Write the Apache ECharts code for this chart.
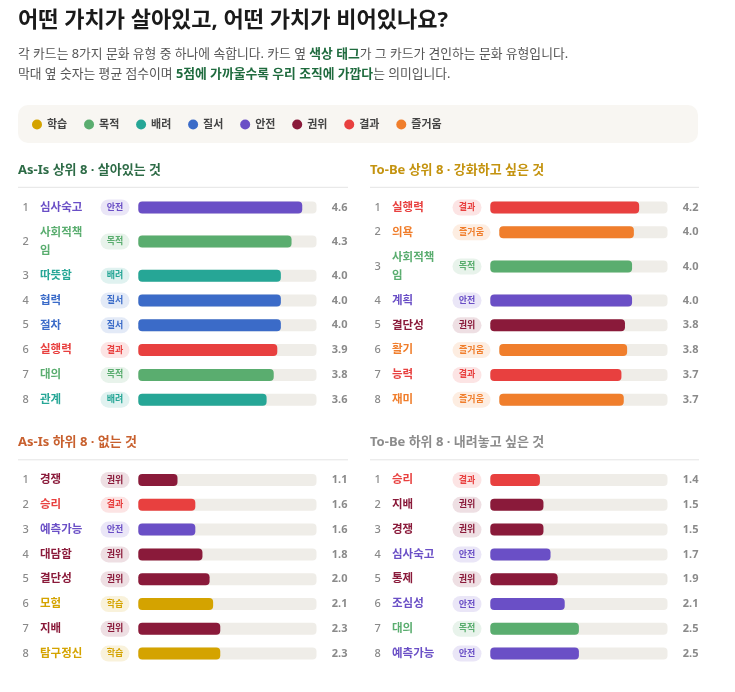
<!DOCTYPE html>
<html><head><meta charset="utf-8">
<script src="https://cdn.jsdelivr.net/npm/echarts@6/dist/echarts.min.js"></script>
<style>html,body{margin:0;padding:0;background:#fff}#c{width:735px;height:692px}</style>
</head><body><div id="c"></div>
<script>
// ---------- data ----------
const cultureTypes = ['학습','목적','배려','질서','안전','권위','결과','즐거움'];
const scoreMax = 5;

const asIsTopNames  = ['심사숙고','사회적책임','따뜻함','협력','절차','실행력','대의','관계'];
const asIsTopTypes  = ['안전','목적','배려','질서','질서','결과','목적','배려'];
const asIsTopScores = [4.6,4.3,4.0,4.0,4.0,3.9,3.8,3.6];

const toBeTopNames  = ['실행력','의욕','사회적책임','계획','결단성','활기','능력','재미'];
const toBeTopTypes  = ['결과','즐거움','목적','안전','권위','즐거움','결과','즐거움'];
const toBeTopScores = [4.2,4.0,4.0,4.0,3.8,3.8,3.7,3.7];

const asIsBottomNames  = ['경쟁','승리','예측가능','대담함','결단성','모험','지배','탐구정신'];
const asIsBottomTypes  = ['권위','결과','안전','권위','권위','학습','권위','학습'];
const asIsBottomScores = [1.1,1.6,1.6,1.8,2.0,2.1,2.3,2.3];

const toBeBottomNames  = ['승리','지배','경쟁','심사숙고','통제','조심성','대의','예측가능'];
const toBeBottomTypes  = ['결과','권위','권위','안전','권위','안전','목적','안전'];
const toBeBottomScores = [1.4,1.5,1.5,1.7,1.9,2.1,2.5,2.5];

const sectionTitles = ['As-Is 상위 8 · 살아있는 것','To-Be 상위 8 · 강화하고 싶은 것','As-Is 하위 8 · 없는 것','To-Be 하위 8 · 내려놓고 싶은 것'];

// ---------- style ----------
const FONT = '"Noto Sans","Noto Sans CJK KR",sans-serif';
const typeColor = {
  '학습':'#d4a300','목적':'#5aad6f','배려':'#26a696','질서':'#3b6bc8',
  '안전':'#6a4fc6','권위':'#8a1a3a','결과':'#e8403f','즐거움':'#f07e2c'
};
const ROW_PX = 24.8, WRAP_EXTRA = 0.75, NAME_CHARS = 4;
const panels = [
  {names:asIsTopNames, types:asIsTopTypes, scores:asIsTopScores, left:18, right:348, top:170, color:'#2d6b46'},
  {names:toBeTopNames, types:toBeTopTypes, scores:toBeTopScores, left:370, right:699, top:170, color:'#c4930f'},
  {names:asIsBottomNames, types:asIsBottomTypes, scores:asIsBottomScores, left:18, right:348, top:442.5, color:'#c8602e'},
  {names:toBeBottomNames, types:toBeBottomTypes, scores:toBeBottomScores, left:370, right:699, top:442.5, color:'#8c8c8c'}
];
function tagWidth(t){ return t.length*9 + 11; }
function rowLayout(names){
  let acc = 0;
  const centers = names.map(n => { const h = n.length > NAME_CHARS ? 1 + WRAP_EXTRA : 1; const c = acc + h/2; acc += h; return c; });
  return {centers, total: acc};
}

const grids = [], xAxes = [], yAxes = [], series = [], graphics = [];
panels.forEach((p, k) => {
  const lay = rowLayout(p.names);
  grids.push({left: p.left + 120.3, right: 735 - (p.right - 31.5), top: p.top + 25.1, height: lay.total * ROW_PX});
  xAxes.push({gridIndex:k, type:'value', min:0, max:scoreMax, show:false});
  yAxes.push({gridIndex:k, type:'value', min:0, max:lay.total, inverse:true, show:false});
  series.push({
    type:'custom', xAxisIndex:k, yAxisIndex:k, clip:false, silent:true,
    data: p.scores.map((s,i) => [s, lay.centers[i]]),
    renderItem: function(params, api){
      const i = params.dataIndex;
      const score = api.value(0), yc = api.value(1);
      const p0 = api.coord([0, yc]);
      const pMax = api.coord([scoreMax, yc]);
      const pV = api.coord([score, yc]);
      const type = p.types[i], col = typeColor[type];
      const tw = tagWidth(type);
      const off = tw - tagWidth('안전');
      const trackX = p0[0] + off, trackW = pMax[0] - trackX;
      const barW = trackW * (pV[0] - p0[0]) / (pMax[0] - p0[0]);
      const y = p0[1];
      const base = p0[0] - 120.3;
      let name = p.names[i];
      if (name.length > NAME_CHARS) name = name.slice(0, NAME_CHARS) + '\n' + name.slice(NAME_CHARS);
      return {type:'group', children:[
        {type:'rect', shape:{x:trackX, y:y-6, width:trackW, height:12, r:4}, style:{fill:'#efede8'}},
        {type:'rect', shape:{x:trackX, y:y-6, width:barW, height:12, r:4}, style:{fill:col}},
        {type:'text', style:{x:base+4.5, y:y, text:String(i+1), fill:'#8a8a8a', font:'500 11px '+FONT, verticalAlign:'middle', align:'left'}},
        {type:'text', style:{x:base+22, y:y, text:name, fill:col, font:'bold 11.5px '+FONT, lineHeight:18, verticalAlign:'middle', align:'left'}},
        {type:'rect', shape:{x:base+82.5, y:y-8, width:tw, height:16, r:8}, style:{fill:col, opacity:0.14}},
        {type:'text', style:{x:base+82.5+tw/2, y:y, text:type, fill:col, font:'bold 9px '+FONT, verticalAlign:'middle', align:'center'}},
        {type:'text', style:{x:pMax[0]+31, y:y, text:score.toFixed(1), fill:'#8a8a8a', font:'bold 11px '+FONT, verticalAlign:'middle', align:'right'}}
      ]};
    }
  });
  graphics.push({type:'text', x:p.left, y:p.top, style:{text:sectionTitles[k], fill:p.color, font:'bold 13px '+FONT, verticalAlign:'middle'}});
  graphics.push({type:'line', shape:{x1:p.left, y1:p.top+17.3, x2:p.right, y2:p.top+17.3}, style:{stroke:'#e4e4e4', lineWidth:1}});
});

// legend carriers
cultureTypes.forEach(t => series.push({type:'scatter', name:t, data:[], xAxisIndex:0, yAxisIndex:0, itemStyle:{color:typeColor[t], opacity:1}}));

graphics.push(
  {type:'text', x:18, y:20.5, style:{text:'어떤 가치가 살아있고, 어떤 가치가 비어있나요?', fill:'#1a1a1a', font:'bold 22px '+FONT, verticalAlign:'middle'}},
  {type:'text', x:18, y:54.5, style:{text:'각 카드는 8가지 문화 유형 중 하나에 속합니다. 카드 옆 {b|색상 태그}가 그 카드가 견인하는 문화 유형입니다.', fill:'#555', font:'12.8px '+FONT, verticalAlign:'middle', rich:{b:{fill:'#1f6b3e', font:'bold 12.8px '+FONT}}}},
  {type:'text', x:18, y:74.5, style:{text:'막대 옆 숫자는 평균 점수이며 {b|5점에 가까울수록 우리 조직에 가깝다}는 의미입니다.', fill:'#555', font:'12.8px '+FONT, verticalAlign:'middle', rich:{b:{fill:'#1f6b3e', font:'bold 12.8px '+FONT}}}},
  {type:'rect', z:-1, shape:{x:18, y:105, width:680, height:38, r:10}, style:{fill:'#f8f6f2'}}
);

const chart = echarts.init(document.getElementById('c'), null, {renderer:'canvas'});
chart.setOption({
  animation:false,
  backgroundColor:'#ffffff',
  textStyle:{fontFamily:FONT},
  grid:grids, xAxis:xAxes, yAxis:yAxes,
  legend:{left:32, top:119, padding:0, icon:'circle', itemWidth:10, itemHeight:10, itemGap:16.8, selectedMode:false,
    textStyle:{fontSize:11, fontWeight:'bold', color:'#444', fontFamily:FONT}, data:cultureTypes},
  graphic:graphics,
  series:series
});
</script></body></html>
